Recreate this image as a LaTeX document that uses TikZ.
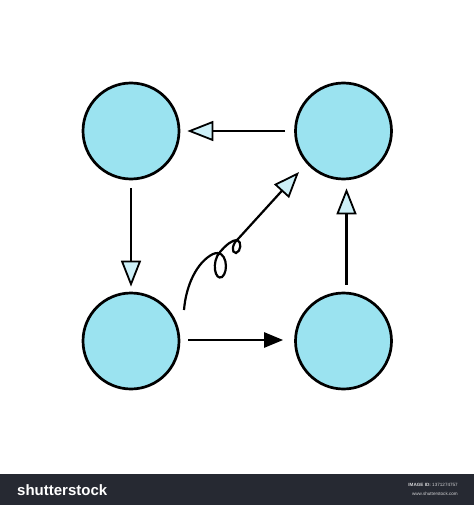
\documentclass[tikz,border=0pt]{standalone}
\usepackage{fontspec}
\setsansfont{Liberation Sans}
\usetikzlibrary{arrows.meta}
\definecolor{circfill}{RGB}{155,227,240}
\definecolor{tipfill}{RGB}{205,240,248}
\definecolor{barcol}{RGB}{38,41,50}
\begin{document}
\begin{tikzpicture}[x=1pt,y=-1pt,
  state/.style={circle,draw=black,line width=2.7pt,fill=circfill,minimum size=96pt,inner sep=0pt},
  flow/.style={line width=2.5pt,-{Triangle[length=26pt,width=20pt,fill=tipfill,line width=1.8pt]}},
  flowsolid/.style={line width=2.5pt,-{Triangle[length=19pt,width=15pt,fill=black]}},
  barbig/.style={text=white,font=\sffamily\bfseries\fontsize{15}{15}\selectfont,inner sep=0pt,anchor=west},
  barsmall/.style={text=white!80!barcol,font=\sffamily\fontsize{4.6}{5}\selectfont,inner sep=0pt,anchor=east}]
\useasboundingbox (0,0) rectangle (474,505);
\fill[white] (0,0) rectangle (474,474);
\node[state] (tl) at (131,131) {};
\node[state] (tr) at (343.5,131) {};
\node[state] (bl) at (131,341) {};
\node[state] (br) at (343.5,341) {};
% straight connectors
\draw[flow,shorten <=9pt,shorten >=7pt] (tr.west) -- (tl.east);
\draw[flow,shorten <=8pt,shorten >=5pt] (tl.south) -- (bl.north);
\draw[flowsolid,shorten <=8pt,shorten >=11pt] ([yshift=1pt]bl.east) -- ([yshift=1pt]br.west);
\draw[flow,shorten <=7pt,shorten >=8pt] ([xshift=3pt]br.north) -- ([xshift=3pt]tr.south);
% curly connector
\coordinate (cstart) at (184,310);
\coordinate (ctip) at (299,172);
\draw[flow,line width=2.2pt] (cstart) .. controls (186,285) and (197,262) .. (213,254)
  .. controls (227,248) and (229,272) .. (222,277)
  .. controls (215,281) and (211,262) .. (220,252)
  .. controls (226,245) and (232,240) .. (237,240)
  .. controls (242,241) and (241,252) .. (236,253)
  .. controls (231,253) and (232,244) .. (238,239)
  -- (ctip);
% bottom bar
\fill[barcol] (0,474) rectangle (474,505);
\node[barbig] (brand) at (17,490) {shutterstock};
\node[barsmall] (imgid) at (458,485) {\textbf{IMAGE ID:} 1371274757};
\node[barsmall] (site) at (458,494) {www.shutterstock.com};
\end{tikzpicture}
\end{document}
